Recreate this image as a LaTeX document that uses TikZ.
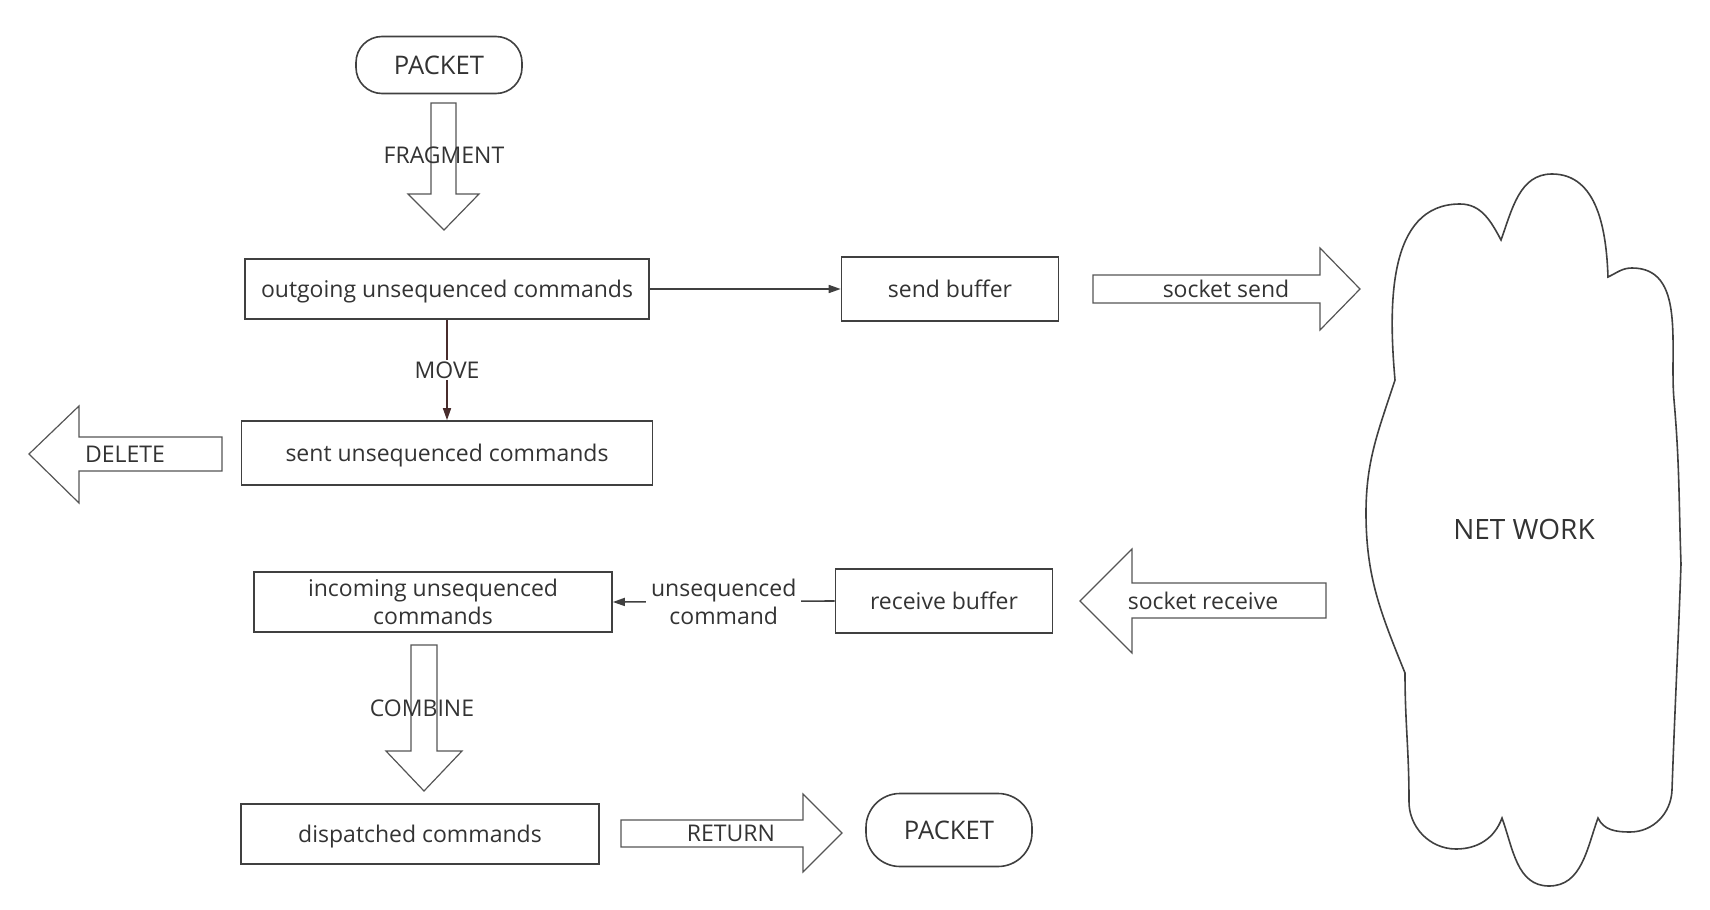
\documentclass[tikz,border=0pt]{standalone}
\usepackage{fontspec}
\setmainfont{Open Sans}
\usetikzlibrary{arrows.meta}

\definecolor{linegray}{RGB}{64,64,64}
\definecolor{arrowgray}{RGB}{85,85,85}
\definecolor{textgray}{RGB}{51,51,51}
\definecolor{movered}{RGB}{72,44,44}

\begin{document}
\begin{tikzpicture}[
        x=0.5pt,
        y=-0.5pt,
        every node/.style={font=\fontsize{11.5}{14}\selectfont,text=textgray,text height=9.6pt,text depth=1.4pt},
        free/.style={text height={},text depth={}},
        box/.style={draw=linegray,line width=0.8pt,inner sep=0pt,minimum height=30pt},
        pill/.style={box,free,rounded corners=13pt,font=\fontsize{12.8}{15}\selectfont},
        blockarrow/.style={draw=arrowgray,line width=0.6pt},
        flow/.style={draw=linegray,line width=0.8pt,-{Triangle[length=6pt,width=4pt]}},
        lbl/.style={free,fill=white,inner ysep=1pt,inner xsep=2.5pt,align=center}]

%Rahmen
\useasboundingbox (0,0) rectangle (1710,910);

%Knoten
\node[pill,minimum width=83pt,minimum height=28.5pt] (packetin) at (439,65) {PACKET};
\node[box,minimum width=202pt] (outgoing) at (447,289) {outgoing unsequenced commands};
\node[box,minimum width=108.5pt,minimum height=32pt] (sendbuf) at (950,289) {send buffer};
\node[box,minimum width=205.5pt,minimum height=32pt] (sent) at (447,453) {sent unsequenced commands};
\node[box,free,minimum width=179pt,align=center] (incoming) at (433,602) {incoming unsequenced\\commands};
\node[box,minimum width=108.5pt,minimum height=32pt] (recvbuf) at (944,601) {receive buffer};
\node[box,minimum width=179pt] (dispatched) at (420,834) {dispatched commands};
\node[pill,minimum width=83pt,minimum height=36.5pt,rounded corners=17pt] (packetout) at (949,830) {PACKET};
\node[free,font=\fontsize{14}{17}\selectfont] (network) at (1524,529) {NET WORK};

%Verbindungen
\draw[flow] (outgoing.east) -- (sendbuf.west);
\draw[flow,draw=movered] (outgoing.south) -- node[lbl] {MOVE} (sent.north);
\draw[flow] (recvbuf.west) -- node[lbl] {unsequenced\\command} (incoming.east);

%Blockpfeile
\draw[blockarrow] (431,103)--(456,103)--(456,194)--(479,194)--(444,230)--(408,194)--(431,194)--cycle;
\node[] (fragment) at (444,155) {FRAGMENT};

\draw[blockarrow] (222,437)--(79,437)--(79,406)--(29,454)--(79,503)--(79,471)--(222,471)--cycle;
\node[] (delete) at (125,454) {DELETE};

\draw[blockarrow] (1093,275)--(1320,275)--(1320,248)--(1360,289)--(1320,330)--(1320,303)--(1093,303)--cycle;
\node[] (socksend) at (1226,289) {socket send};

\draw[blockarrow] (1326,583)--(1132,583)--(1132,549)--(1080,601)--(1132,653)--(1132,618)--(1326,618)--cycle;
\node[] (sockrecv) at (1203,601) {socket receive};

\draw[blockarrow] (411,645)--(437,645)--(437,751)--(462,751)--(424,791)--(386,751)--(411,751)--cycle;
\node[] (combine) at (422,708) {COMBINE};

\draw[blockarrow] (621,820)--(803,820)--(803,794)--(842,833)--(803,872)--(803,847)--(621,847)--cycle;
\node[] (return) at (731,833) {RETURN};

%Wolke
\draw[draw=linegray,line width=0.8pt]
  (1395,380) to[out=95,in=180] (1460,204) to[out=0,in=118] (1501,240)
  to[out=70,in=180] (1552,174) to[out=0,in=92] (1608,277)
  to[out=25,in=180] (1632,268) to[out=0,in=95] (1674,400)
  to[out=-85,in=92] (1681,564) to[out=-92,in=88] (1672,790)
  to[out=-92,in=0] (1630,832) to[out=180,in=-65] (1598,818)
  to[out=-110,in=0] (1549,886) to[out=180,in=-70] (1502,818)
  to[out=-110,in=0] (1456,849) to[out=180,in=-92] (1409,800)
  to[out=90,in=-90] (1405,673) to[out=112,in=-90] (1366,513)
  to[out=90,in=-108] cycle;

\end{tikzpicture}
\end{document}
